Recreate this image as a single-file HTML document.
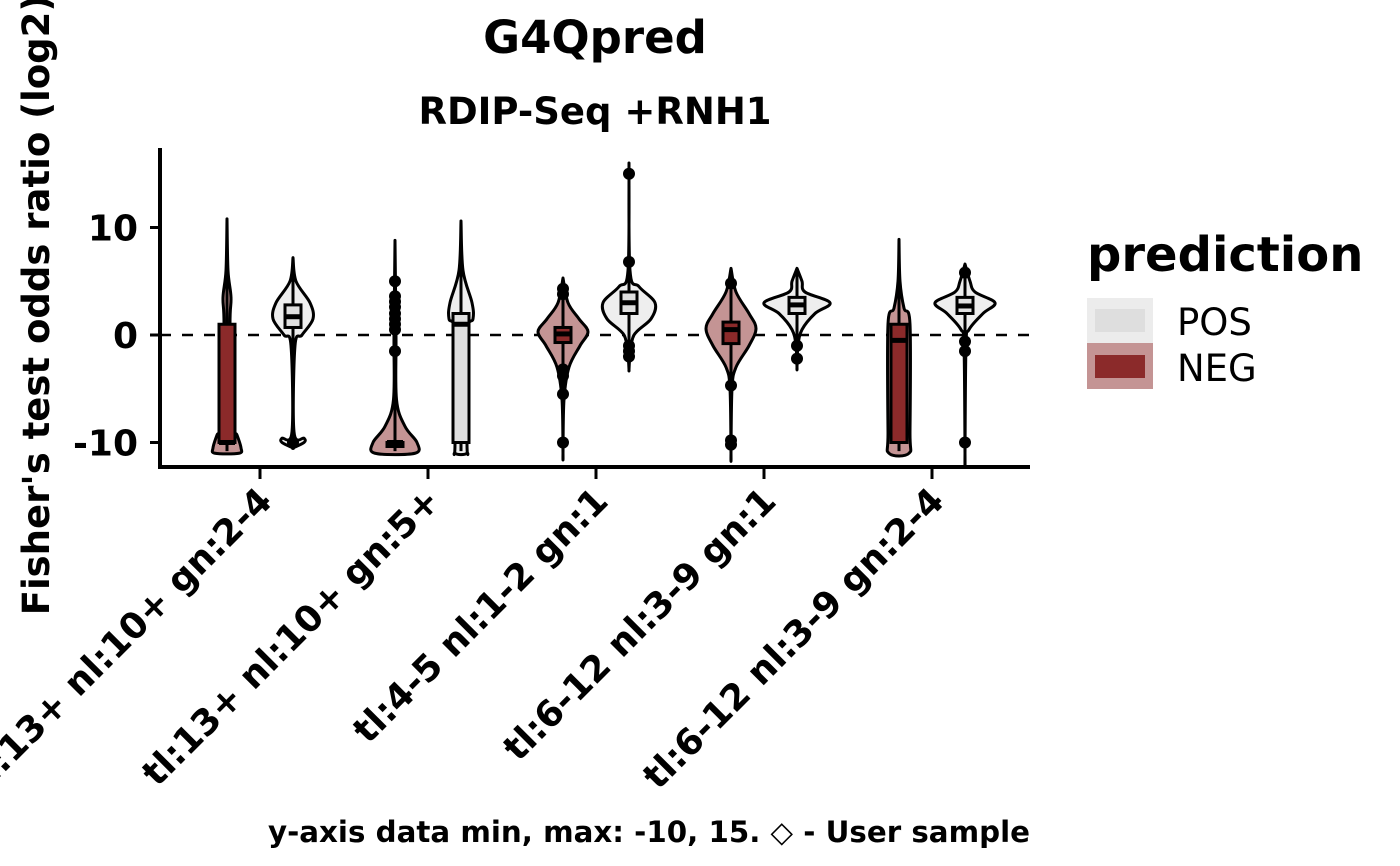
<!DOCTYPE html>
<html><head><meta charset="utf-8"><style>
html,body{margin:0;padding:0;background:#fff;}
svg{display:block;font-family:"DejaVu Sans","Liberation Sans",sans-serif;}
</style></head><body>
<svg id="chart" width="1400" height="866" viewBox="0 0 1400 866">
<text x="595" y="53" text-anchor="middle" font-size="45" font-weight="bold">G4Qpred</text>
<text x="595" y="124" text-anchor="middle" font-size="37" font-weight="bold">RDIP-Seq +RNH1</text>
<text transform="translate(49,305) rotate(-90)" text-anchor="middle" font-size="37" font-weight="bold">Fisher's test odds ratio (log2)</text>
<text x="1030" y="842" text-anchor="end" font-size="29.3" font-weight="bold">y-axis data min, max: -10, 15. ◇ - User sample</text>
<g id="plot"></g>
<g>
<text x="1087" y="271" font-size="48" font-weight="bold">prediction</text>
<g>
<rect x="1087" y="298" width="66" height="45" fill="#ececec"/>
<rect x="1095" y="309" width="50" height="23" fill="#dedede"/>
<text x="1177" y="335" font-size="37">POS</text></g>
<g>
<rect x="1087" y="343" width="66" height="46" fill="#c49494"/>
<rect x="1095" y="355" width="50" height="23" fill="#8b2a2a"/>
<text x="1177" y="381" font-size="37">NEG</text></g>
</g>
</svg>
<script>
const categories=["tl:13+ nl:10+ gn:2-4","tl:13+ nl:10+ gn:5+","tl:4-5 nl:1-2 gn:1","tl:6-12 nl:3-9 gn:1","tl:6-12 nl:3-9 gn:2-4"];
const yTicks=[-10,0,10];
const negQ1=[-10,-10,-0.7,-0.8,-10];
const negMed=[-10,-10,0.1,0.5,-0.5];
const negQ3=[1,-10,0.7,1.2,1];
const negMin=[-10.8,-10.8,-10.8,-10.8,-10.8];
const negMax=[10.8,8.8,5.3,6.2,8.9];
const negOut=[[],[5,3.6,3.1,2.6,2,1.5,1,0.5,-1.5],[4.3,3.8,-3.2,-3.8,-5.5,-10],[4.8,-4.7,-9.8,-10.2],[]];
const negProfile=[[[10.8,0],[6,1],[3.5,4],[1,3],[-8,4],[-9.3,10],[-10.5,14],[-11,12]],
 [[8.8,0],[0,1],[-6,1.5],[-8.5,10],[-10,22],[-11,20]],
 [[5.3,0],[3,5],[1.5,16],[0.3,25],[-1,17],[-3,6],[-6,1],[-11,0]],
 [[6.2,0],[4,5],[2,18],[0.6,25],[-1,18],[-3,5],[-5,1],[-11,0]],
 [[8.9,0],[5,1],[2.5,5],[1,11],[-9,11],[-11,10]]];
const posQ1=[0.7,-10,2,2,2];
const posMed=[1.7,1,3,2.8,2.7];
const posQ3=[2.8,2,4,3.5,3.5];
const posMin=[-10.5,-10.8,-3.2,-3,-10.8];
const posMax=[7.2,10.6,16,6.2,6.6];
const posOut=[[-10],[],[15,6.8,-1,-1.5,-2],[-1,-2.2],[5.8,-0.6,-1.5,-10]];
const posProfile=[[[7.2,0],[5,3],[3,17],[1.5,20],[0,9],[-1,2],[-9,1],[-9.6,11],[-10,11],[-10.5,0]],
 [[10.6,0],[6,2],[3,11],[1.5,12],[0,6],[-10,6],[-11,6]],
 [[16,0],[6,1],[4.5,10],[3,26],[1.5,22],[0,5],[-2,1],[-3.2,0]],
 [[6.2,0],[5,5],[4,8],[3,33],[2,18],[0.5,5],[-1,1],[-3,0]],
 [[6.6,0],[5,5],[4,10],[3,30],[2,18],[0.5,4],[-1,1],[-11,0]]];

const X0=160,X1=1030,YB=467,YT=148;
const yS=v=>335-v*10.75;
const xS=i=>260+i*168;
const NS="http://www.w3.org/2000/svg";
const plot=document.getElementById('plot');
function mk(tag,attrs,parent){const e=document.createElementNS(NS,tag);for(const k in attrs)e.setAttribute(k,attrs[k]);(parent||plot).appendChild(e);return e;}

let ax=mk('line',{x1:X0,y1:YT,x2:X0,y2:YB+2,stroke:'#000','stroke-width':4});


let bx=mk('line',{x1:X0-2,y1:YB,x2:X1,y2:YB,stroke:'#000','stroke-width':4});


yTicks.forEach(t=>{
 const l=mk('line',{x1:X0-10,y1:yS(t),x2:X0,y2:yS(t),stroke:'#000','stroke-width':3});
 
 
 const tx=mk('text',{x:X0-22,y:yS(t)+13,'text-anchor':'end','font-size':36,'font-weight':'bold'});
 tx.textContent=t;
 
 
});
let ref=mk('line',{x1:X0,y1:yS(0),x2:X1,y2:yS(0),stroke:'#000','stroke-width':2.5,'stroke-dasharray':'11 11'});


categories.forEach((c,i)=>{
 const x=xS(i);
 const l=mk('line',{x1:x,y1:YB,x2:x,y2:YB+12,stroke:'#000','stroke-width':3});
 
 
 const t=mk('text',{transform:`translate(${x+14},${503}) rotate(-45)`,'text-anchor':'end','font-size':36,'font-weight':'bold'});
 t.textContent=c;
 
 
});

function smooth(pts){
 let d='M'+pts[0][0]+','+pts[0][1];
 for(let i=0;i<pts.length-1;i++){
  const p0=pts[Math.max(i-1,0)],p1=pts[i],p2=pts[i+1],p3=pts[Math.min(i+2,pts.length-1)];
  const c1=[p1[0]+(p2[0]-p0[0])/6,p1[1]+(p2[1]-p0[1])/6];
  const c2=[p2[0]-(p3[0]-p1[0])/6,p2[1]-(p3[1]-p1[1])/6];
  d+=` C${c1[0]},${c1[1]} ${c2[0]},${c2[1]} ${p2[0]},${p2[1]}`;
 }
 return d;
}
function violin(cx,prof,q1,med,q3,mn,mx,outs,vfill,bfill,name){
 const g=mk('g',{});
 
 
 const pts=[];
 prof.forEach(p=>pts.push([cx+p[1],yS(p[0])]));
 for(let k=prof.length-1;k>=0;k--)pts.push([cx-prof[k][1],yS(prof[k][0])]);
 mk('path',{d:smooth(pts)+'Z',fill:vfill,stroke:'#000','stroke-width':3,'stroke-linejoin':'round'},g);
 mk('line',{x1:cx,y1:yS(mx),x2:cx,y2:yS(mn),stroke:'#000','stroke-width':3},g);
 const h=Math.max(yS(q1)-yS(q3),4);
 mk('rect',{x:cx-8,y:yS(q3),width:16,height:h,fill:bfill,stroke:'#000','stroke-width':3},g);
 mk('line',{x1:cx-8,y1:yS(med),x2:cx+8,y2:yS(med),stroke:'#000','stroke-width':5},g);
 outs.forEach(o=>mk('circle',{cx:cx,cy:yS(o),r:6,fill:'#000'},g));
}
categories.forEach((c,i)=>{
 violin(xS(i)-33,negProfile[i],negQ1[i],negMed[i],negQ3[i],negMin[i],negMax[i],negOut[i],'#c49494','#8b2a2a','violin-neg-'+(i+1));
 violin(xS(i)+33,posProfile[i],posQ1[i],posMed[i],posQ3[i],posMin[i],posMax[i],posOut[i],'#eeeeee','#e0e0e0','violin-pos-'+(i+1));
});
</script>
</body></html>
